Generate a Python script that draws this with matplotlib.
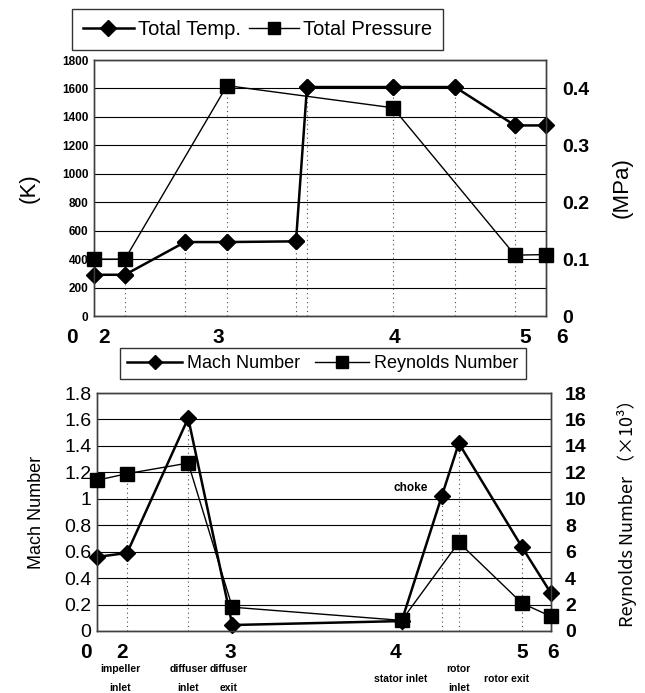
import matplotlib
matplotlib.use('Agg')
import matplotlib.pyplot as plt
from matplotlib.lines import Line2D

plt.rcParams['font.family'] = ['Liberation Sans', 'DejaVu Sans']

# ---- top panel data (x = station position along the flow path) ----
temp_x = [0, 31, 91, 133, 202, 213, 299, 361, 421, 452]
temp_k = [290, 290, 520, 520, 525, 1610, 1610, 1610, 1340, 1340]
pres_x = [0, 31, 133, 299, 421, 452]
pres_mpa = [0.10, 0.10, 0.405, 0.366, 0.107, 0.108]

top_station_x = [-22, 10, 124, 300, 431, 468]
top_station_lbl = ['0', '2', '3', '4', '5', '6']

# ---- bottom panel data ----
mach_x = [0, 30, 91, 135, 304, 344, 361, 424, 453]
mach = [0.56, 0.59, 1.61, 0.045, 0.075, 1.02, 1.42, 0.635, 0.285]
rey_x = [0, 30, 91, 135, 304, 361, 424, 453]
reynolds = [11.4, 11.9, 12.7, 1.8, 0.8, 6.7, 2.1, 1.1]

bot_station_x = [-11, 25, 133, 298, 424, 455]
bot_station_lbl = ['0', '2', '3', '4', '5', '6']
loc_x = [23, 91, 131, 303, 361, 409]
loc_lbl = ['impeller\ninlet', 'diffuser\ninlet', 'diffuser\nexit',
           'stator inlet', 'rotor\ninlet', 'rotor exit']

fig = plt.figure(figsize=(6.45, 6.93), dpi=100)

# =================== top: total temperature / pressure ===================
ax1 = fig.add_axes([0.1457, 0.544, 0.7008, 0.3694])
ax1r = ax1.twinx()

ax1.set_xlim(0, 452)
ax1.set_ylim(0, 1800)
ax1r.set_ylim(0, 0.45)
ax1.set_yticks(range(0, 1801, 200))
ax1r.set_yticks([0, 0.1, 0.2, 0.3, 0.4])
ax1r.set_yticklabels(['0', '0.1', '0.2', '0.3', '0.4'])
ax1.set_xticks([])
ax1.grid(axis='y', color='black', lw=0.8)
ax1.set_axisbelow(True)

# drop lines
drop = {}
for x, v in zip(temp_x, temp_k):
    drop[x] = max(drop.get(x, 0), v)
for x, v in zip(pres_x, pres_mpa):
    drop[x] = max(drop.get(x, 0), v * 4000)
for x, v in drop.items():
    if 0 < x < 452:
        ax1.vlines(x, 0, v, colors='0.3', linestyles=(0, (1, 3)), lw=0.8)

ax1.plot(temp_x, temp_k, color='black', lw=1.8, marker='D', ms=8, zorder=4)
ax1r.plot(pres_x, pres_mpa, color='black', lw=1.0, marker='s', ms=10,
          zorder=4, clip_on=False)
ax1.plot(temp_x, temp_k, color='black', lw=0, marker='D', ms=8, clip_on=False)

for ax in (ax1, ax1r):
    ax.tick_params(length=0)
    for s in ax.spines.values():
        s.set_color('0.25')
        s.set_linewidth(1.0)
ax1.tick_params(axis='y', labelsize=8.5, pad=4)
for t in ax1.get_yticklabels():
    t.set_fontweight('bold')
ax1r.tick_params(axis='y', labelsize=14, pad=12)
for t in ax1r.get_yticklabels():
    t.set_fontweight('bold')

ax1.set_ylabel('(K)', fontsize=16, labelpad=16)
ax1r.set_ylabel('(MPa)', fontsize=16, labelpad=16)

for x, s in zip(top_station_x, top_station_lbl):
    ax1.text(x, -150, s, ha='center', va='center', fontsize=15,
             fontweight='bold', clip_on=False)

h1 = [Line2D([], [], color='black', lw=1.8, marker='D', ms=8),
      Line2D([], [], color='black', lw=1.0, marker='s', ms=9)]
fig.legend(h1, ['Total Temp.', 'Total Pressure'], loc='center',
           bbox_to_anchor=(0.3995, 0.958), ncol=2, fontsize=14.5,
           frameon=True, fancybox=False, edgecolor='black',
           handlelength=2.5, handletextpad=0.2, columnspacing=0.4,
           borderpad=0.55, borderaxespad=0)

# =================== bottom: Mach / Reynolds ===================
ax2 = fig.add_axes([0.1504, 0.0895, 0.7039, 0.3434])
ax2r = ax2.twinx()

ax2.set_xlim(0, 453)
ax2.set_ylim(0, 1.8)
ax2r.set_ylim(0, 18)
ax2.set_yticks([0, 0.2, 0.4, 0.6, 0.8, 1.0, 1.2, 1.4, 1.6, 1.8])
ax2.set_yticklabels(['0', '0.2', '0.4', '0.6', '0.8', '1', '1.2', '1.4',
                     '1.6', '1.8'])
ax2r.set_yticks(range(0, 19, 2))
ax2.set_xticks([])
ax2.grid(axis='y', color='black', lw=0.8)
ax2.set_axisbelow(True)

drop2 = {}
for x, v in zip(mach_x, mach):
    drop2[x] = max(drop2.get(x, 0), v)
for x, v in zip(rey_x, reynolds):
    drop2[x] = max(drop2.get(x, 0), v / 10)
for x, v in drop2.items():
    if 0 < x < 453:
        ax2.vlines(x, 0, v, colors='0.3', linestyles=(0, (1, 3)), lw=0.8)

ax2.plot(mach_x, mach, color='black', lw=1.8, marker='D', ms=8, zorder=4,
         clip_on=False)
ax2r.plot(rey_x, reynolds, color='black', lw=1.0, marker='s', ms=10,
          zorder=4, clip_on=False)

for ax in (ax2, ax2r):
    ax.tick_params(length=0)
    for s in ax.spines.values():
        s.set_color('0.25')
        s.set_linewidth(1.0)
ax2.tick_params(axis='y', labelsize=14, pad=4)
ax2r.tick_params(axis='y', labelsize=14, pad=10)
for t in ax2r.get_yticklabels():
    t.set_fontweight('bold')

ax2.set_ylabel('Mach Number', fontsize=13, labelpad=14)
ax2r.set_ylabel('Reynolds Number （×10³）', fontsize=13,
                family=['Noto Sans CJK JP', 'DejaVu Sans'])
ax2r.yaxis.set_label_coords(1.145, 0.515)

ax2.text(313, 1.08, 'choke', ha='center', va='center', fontsize=8.5,
         fontweight='bold')

for x, s in zip(bot_station_x, bot_station_lbl):
    ax2.text(x, -0.16, s, ha='center', va='center', fontsize=15,
             fontweight='bold', clip_on=False)
for x, s in zip(loc_x, loc_lbl):
    ax2.text(x, -0.36, s, ha='center', va='center', fontsize=7.5,
             fontweight='bold', linespacing=2.2, clip_on=False)

h2 = [Line2D([], [], color='black', lw=1.8, marker='D', ms=7),
      Line2D([], [], color='black', lw=1.0, marker='s', ms=8)]
fig.legend(h2, ['Mach Number', 'Reynolds Number'], loc='center',
           bbox_to_anchor=(0.5008, 0.4755), ncol=2, fontsize=13,
           frameon=True, fancybox=False, edgecolor='black',
           handlelength=3.0, handletextpad=0.3, columnspacing=0.8,
           borderpad=0.4, borderaxespad=0)

plt.savefig('out.png', dpi=100)
